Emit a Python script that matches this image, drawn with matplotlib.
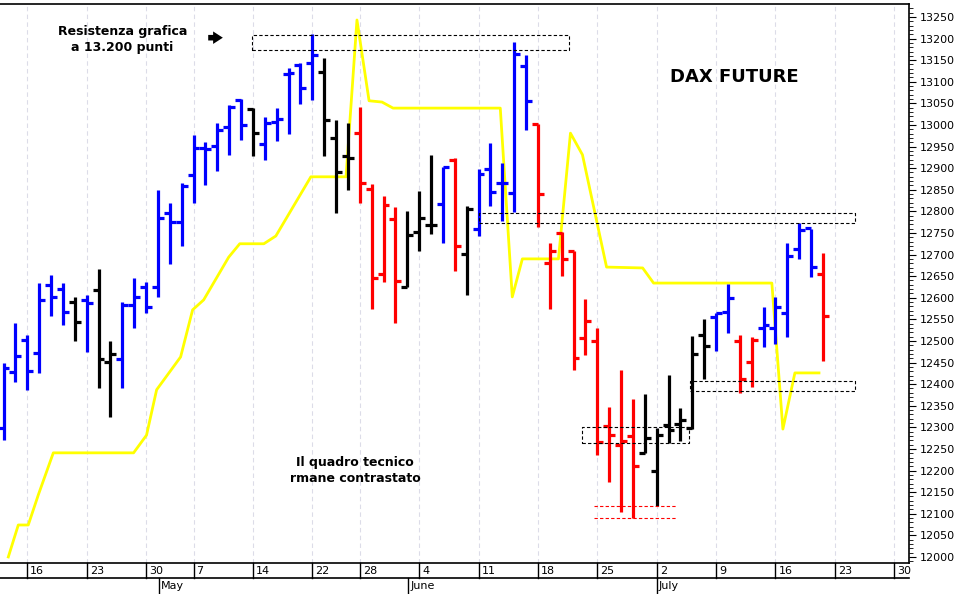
import numpy as np
import matplotlib
matplotlib.use("Agg")
import matplotlib.pyplot as plt
import matplotlib.transforms as mtransforms

# OHLC bars, one per trading day (12 Apr .. 20 Jul)
opens = [12299, 12428, 12502, 12472, 12630, 12620, 12590, 12595, 12618, 12451,
         12458, 12583, 12625, 12625, 12796, 12775, 12884, 12947, 12951, 12995,
         13058, 13037, 12956, 13007, 13118, 13139, 13143, 13123, 12970, 12928,
         12981, 12852, 12655, 12782, 12625, 12752, 12768, 12817, 12919, 12701,
         12759, 12898, 12866, 12843, 13137, 13002, 12681, 12750, 12708, 12507,
         12500, 12303, 12259, 12280, 12241, 12199, 12305, 12308, 12298, 12514,
         12556, 12567, 12500, 12451, 12530, 12530, 12565, 12713, 12762, 12655]
highs = [12449, 12541, 12514, 12634, 12653, 12634, 12602, 12606, 12667, 12500,
         12590, 12646, 12637, 12850, 12819, 12866, 12977, 12961, 13005, 13046,
         13060, 13039, 13019, 13039, 13132, 13143, 13210, 13155, 13012, 13005,
         13042, 12863, 12836, 12810, 12801, 12847, 12930, 12903, 12924, 12812,
         12898, 12958, 12912, 13192, 13162, 13002, 12727, 12752, 12708, 12597,
         12530, 12347, 12433, 12366, 12377, 12298, 12421, 12345, 12512, 12551,
         12565, 12632, 12514, 12509, 12579, 12602, 12727, 12773, 12759, 12704]
lows = [12271, 12405, 12387, 12426, 12558, 12537, 12500, 12475, 12391, 12324,
        12391, 12530, 12565, 12602, 12678, 12720, 12819, 12861, 12894, 12930,
        12965, 12928, 12919, 12963, 12979, 13049, 13058, 12928, 12796, 12850,
        12819, 12574, 12637, 12542, 12625, 12708, 12747, 12727, 12662, 12606,
        12743, 12812, 12778, 12799, 12988, 12764, 12574, 12650, 12433, 12468,
        12236, 12174, 12104, 12090, 12240, 12118, 12264, 12268, 12296, 12412,
        12477, 12519, 12380, 12393, 12486, 12493, 12509, 12690, 12648, 12454]
closes = [12437, 12465, 12430, 12595, 12602, 12567, 12544, 12588, 12458, 12470,
          12583, 12602, 12579, 12785, 12775, 12859, 12947, 12944, 12988, 13042,
          13000, 12981, 13005, 13014, 13120, 13086, 13162, 13012, 12891, 12924,
          12866, 12646, 12815, 12639, 12745, 12785, 12768, 12903, 12720, 12806,
          12886, 12845, 12866, 13164, 13055, 12840, 12708, 12690, 12461, 12546,
          12266, 12282, 12268, 12211, 12276, 12282, 12294, 12317, 12470, 12488,
          12565, 12600, 12412, 12502, 12537, 12579, 12697, 12757, 12671, 12558]
colors = "BBBBBBKBKKBBBBBBBBBBBKBBBBBKKK" + "RRRRKKKBRKBBBBBRRRR" + "RRRRRKKKKKKBBRRBBBBBR"

# yellow indicator line (x in trading-day index)
yel_x = [0.40, 1.24, 2.08, 2.93, 4.19, 10.95, 12.04, 12.89, 14.91, 15.92, 16.85,
         18.96, 19.89, 21.92, 22.93, 25.88, 28.84, 29.76, 30.78, 31.87, 32.80,
         41.83, 42.84, 43.69, 46.73, 47.74, 48.75, 50.78, 53.82, 54.74, 64.70,
         65.63, 66.64, 68.67]
yel_y = [12000, 12074, 12074, 12144, 12241, 12241, 12282, 12387, 12463, 12572, 12595,
         12694, 12725, 12725, 12743, 12880, 12880, 13243, 13056, 13053, 13039,
         13039, 12602, 12690, 12690, 12981, 12931, 12671, 12669, 12634, 12634,
         12296, 12426, 12426]

# dashed boxes: (x0, x1, low, high)
boxes = [(20.9, 47.65, 13174, 13208), (40.06, 71.7, 12773, 12796),
         (48.75, 57.7, 12264, 12301), (57.8, 71.7, 12384, 12407)]
red_lines = [12118, 12090]
red_span = (49.76, 56.6)

day_pos = [2, 7, 12, 16, 21, 26, 30, 35, 40, 45, 50, 55, 60, 65, 70, 75]
day_lbl = ["16", "23", "30", "7", "14", "22", "28", "4", "11", "18", "25", "2", "9", "16", "23", "30"]
month_pos = [13.05, 34.07, 55]
month_lbl = ["May", "June", "July"]

cmap = {"B": "#0000ff", "R": "#ff0000", "K": "#000000"}

fig = plt.figure(figsize=(9.57, 5.94), dpi=100)
ax = fig.add_axes([0, 1 - 563 / 594, 909 / 957, 559 / 594])
ax.set_xlim(-0.3, 76.25)
ax.set_ylim(11986, 13280)

for p in day_pos:
    ax.axvline(p, color="#dcdce8", lw=0.8, ls=(0, (4, 3)), zorder=0)

ax.plot(yel_x, yel_y, color="#ffff00", lw=2, zorder=2)

for i in range(len(opens)):
    c = cmap[colors[i]]
    ax.vlines(i, lows[i], highs[i], color=c, lw=2.3, zorder=3)
    ax.hlines(opens[i], i - 0.5, i, color=c, lw=2.3, zorder=3)
    ax.hlines(closes[i], i, i + 0.5, color=c, lw=2.3, zorder=3)

for x0, x1, lo, hi in boxes:
    ax.plot([x0, x1, x1, x0, x0], [lo, lo, hi, hi, lo], color="black",
            lw=0.8, ls=(0, (3, 2)), zorder=4)
for v in red_lines:
    ax.plot(red_span, [v, v], color="#ff0000", lw=0.8, ls=(0, (3, 2)), zorder=4)

ax.text(10.0, 13197, "Resistenza grafica\na 13.200 punti", ha="center", va="center",
        fontsize=9, fontweight="bold", linespacing=1.3)
ax.annotate("", xy=(18.7, 13202), xytext=(17.0, 13202),
            arrowprops=dict(arrowstyle="simple,head_length=0.7,head_width=0.9,tail_width=0.4",
                            color="black", lw=0))
ax.text(61.5, 13112, "DAX FUTURE", ha="center", va="center", fontsize=13, fontweight="bold")
ax.text(29.6, 12199, "Il quadro tecnico\nrmane contrastato", ha="center", va="center",
        fontsize=9, fontweight="bold", linespacing=1.3)

# right price axis
ax.yaxis.tick_right()
ax.set_yticks(np.arange(12000, 13251, 50))
ax.set_yticks(np.arange(11990, 13280, 10), minor=True)
ax.tick_params(axis="y", which="major", length=5, labelsize=8, pad=3)
ax.tick_params(axis="y", which="minor", length=3)
ax.set_xticks([])
for s in ax.spines.values():
    s.set_linewidth(1.2)
ax.spines["left"].set_visible(False)

# date axis drawn below the plot
tr = mtransforms.blended_transform_factory(ax.transData, fig.transFigure)
yb = 1 - 563 / 594
ym = 1 - 578 / 594
fig.add_artist(plt.Line2D([0, 909 / 957], [ym, ym], color="black", lw=1.2))
for p, l in zip(day_pos, day_lbl):
    fig.add_artist(plt.Line2D([p, p], [ym, yb], color="black", lw=1, transform=tr))
    fig.text(p + 0.25, (yb + ym) / 2, l, transform=tr, fontsize=8, va="center", ha="left")
for p, l in zip(month_pos, month_lbl):
    fig.add_artist(plt.Line2D([p, p], [0, ym], color="black", lw=1, transform=tr))
    fig.text(p + 0.2, ym / 2, l, transform=tr, fontsize=8, va="center", ha="left")

fig.savefig("out.png", dpi=100, facecolor="white")
